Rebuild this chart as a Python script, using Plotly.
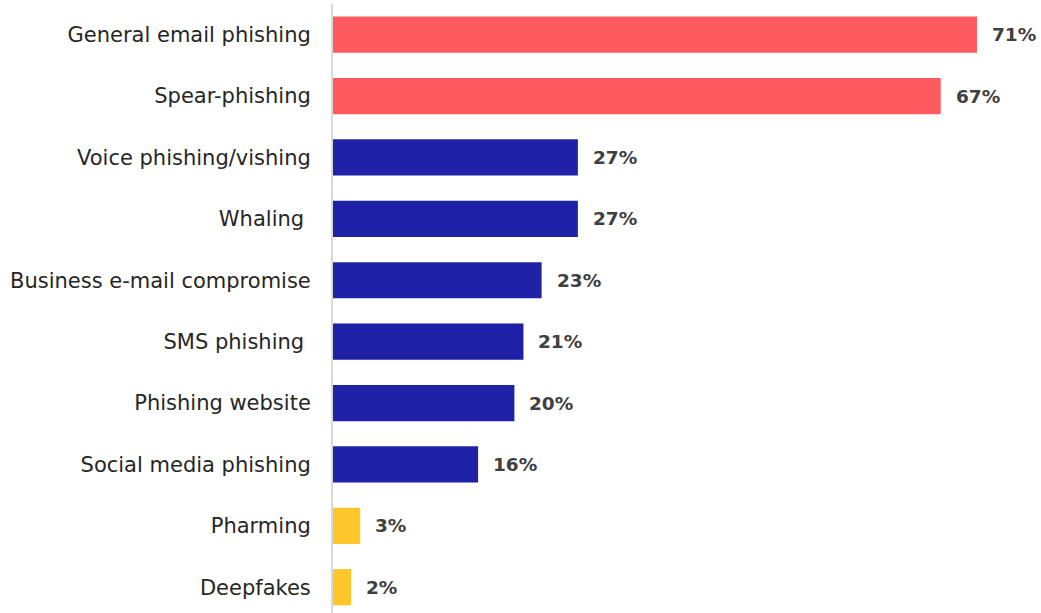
import plotly.graph_objects as go

categories = [
    "General email phishing",
    "Spear-phishing",
    "Voice phishing/vishing",
    "Whaling\u00a0",
    "Business e-mail compromise",
    "SMS phishing\u00a0",
    "Phishing website",
    "Social media phishing",
    "Pharming",
    "Deepfakes",
]
values = [71, 67, 27, 27, 23, 21, 20, 16, 3, 2]
groups = ["top", "top", "mid", "mid", "mid", "mid", "mid", "mid", "low", "low"]
group_colors = {"top": "#FF5A5F", "mid": "#1F21A6", "low": "#FFC72C"}

colors = [group_colors[g] for g in groups]

fig = go.Figure(
    go.Bar(
        x=values,
        y=categories,
        orientation="h",
        marker=dict(color=colors, line=dict(width=0)),
        width=0.59,
        hoverinfo="skip",
    )
)

# value labels to the right of each bar
for cat, v in zip(categories, values):
    fig.add_annotation(
        x=v, y=cat, text=f"<b>{v}%</b>", showarrow=False,
        xanchor="left", yanchor="middle", xshift=13,
        font=dict(family="DejaVu Sans", size=18.5, color="#404040"),
    )

fig.update_layout(
    width=1041, height=613,
    margin=dict(l=333, r=0, t=4, b=0),
    paper_bgcolor="white", plot_bgcolor="white",
    showlegend=False,
    font=dict(family="DejaVu Sans", size=21, color="#262626"),
    xaxis=dict(range=[0, 78.06], visible=False, fixedrange=True),
    yaxis=dict(
        categoryorder="array", categoryarray=categories,
        range=[9.42, -0.5],
        showline=True, linecolor="#D9D9D9", linewidth=2,
        ticks="outside", ticklen=16, tickcolor="rgba(0,0,0,0)",
        showgrid=False, zeroline=False,
        tickfont=dict(family="DejaVu Sans", size=21, color="#262626"),
    ),
)

fig.write_html("out.html")
